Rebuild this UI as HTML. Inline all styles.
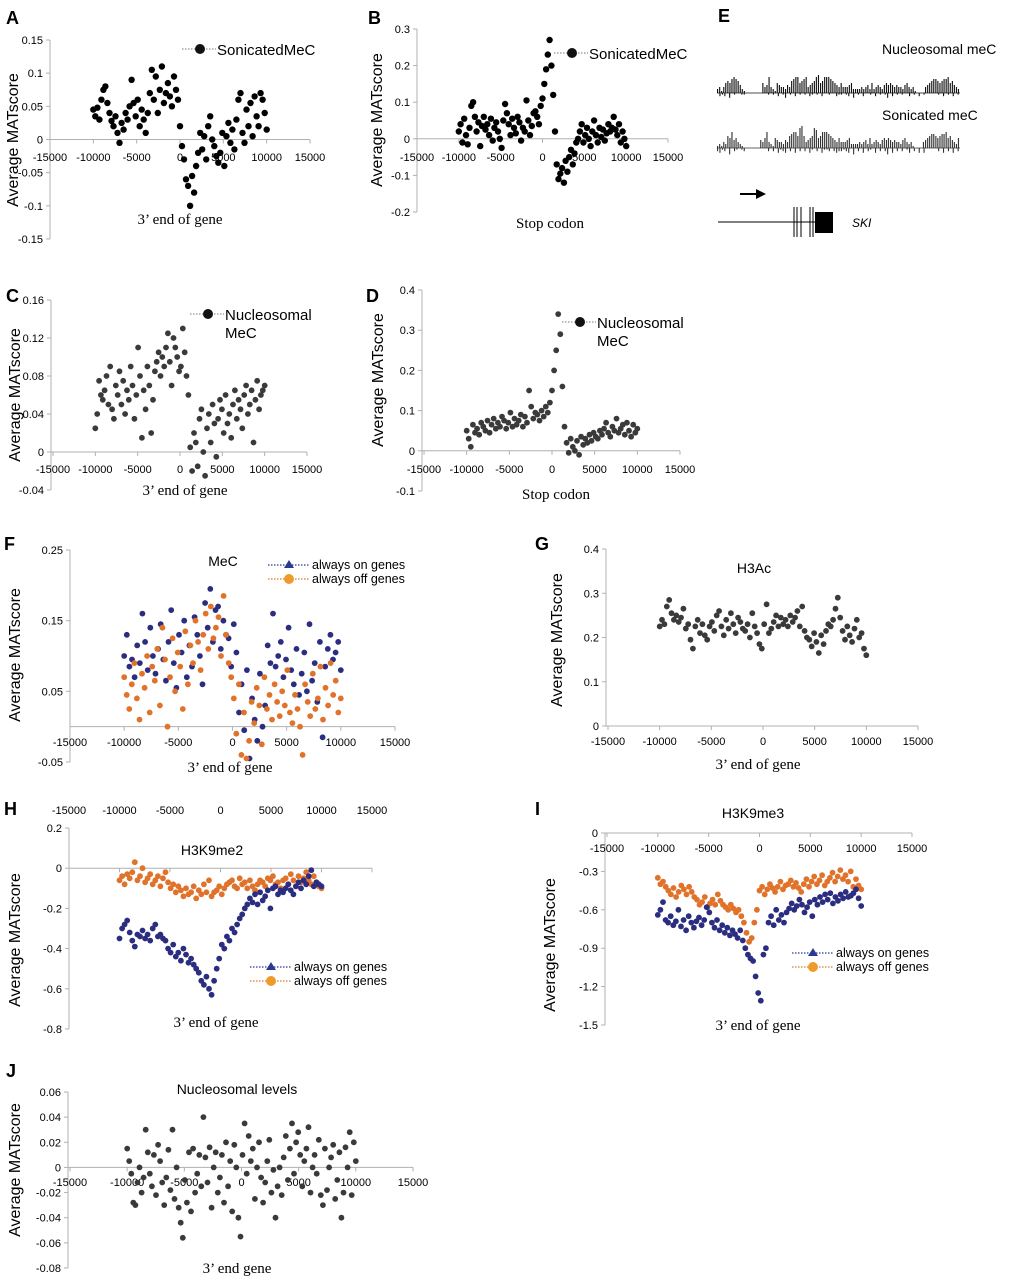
<!DOCTYPE html>
<html><head><meta charset="utf-8"><style>
html,body{margin:0;padding:0;background:#fff;}
svg{display:block;font-family:"Liberation Sans",Arial,sans-serif;}
</style></head><body>
<svg id="fig" width="1011" height="1280" viewBox="0 0 1011 1280" xmlns="http://www.w3.org/2000/svg">
<g id="static">
<text x="6" y="24" font-size="18" font-weight="bold">A</text>
<text x="368" y="24" font-size="18" font-weight="bold">B</text>
<text x="718" y="22" font-size="18" font-weight="bold">E</text>
<text x="6" y="302" font-size="18" font-weight="bold">C</text>
<text x="366" y="302" font-size="18" font-weight="bold">D</text>
<text x="4" y="550" font-size="18" font-weight="bold">F</text>
<text x="535" y="550" font-size="18" font-weight="bold">G</text>
<text x="4" y="815" font-size="18" font-weight="bold">H</text>
<text x="535" y="815" font-size="18" font-weight="bold">I</text>
<text x="6" y="1077" font-size="18" font-weight="bold">J</text>

<text x="882" y="54" font-size="14">Nucleosomal meC</text>
<text x="882" y="120" font-size="14">Sonicated meC</text>
<g>
<line x1="740" y1="194" x2="758" y2="194" stroke="#000" stroke-width="2"/>
<polygon points="756,189 766,194 756,199" fill="#000"/>
<line x1="718" y1="222" x2="815" y2="222" stroke="#000" stroke-width="1"/>
<line x1="794" y1="207" x2="794" y2="237" stroke="#000"/>
<line x1="797" y1="207" x2="797" y2="237" stroke="#000"/>
<line x1="801" y1="207" x2="801" y2="237" stroke="#000"/>
<line x1="810" y1="207" x2="810" y2="237" stroke="#000"/>
<line x1="813" y1="207" x2="813" y2="237" stroke="#000"/>
<rect x="815" y="212" width="18" height="21" fill="#000"/>
<text x="852" y="227" font-size="12" font-style="italic">SKI</text>
</g>
</g>
<g id="dyn"></g>
</svg>
<script>
// ---- data (values in units of 0.001 MATscore) ----
const xTicks = [-15000,-10000,-5000,0,5000,10000,15000];
const xTickLabels = ["-15000","-10000","-5000","0","5000","10000","15000"];
const seriesA = [45,35,48,30,60,75,80,55,40,28,20,35,10,-5,25,15,40,30,50,90,55,35,60,20,45,30,10,40,70,105,60,95,40,75,110,55,70,85,65,50,95,75,60,20,-10,-30,-60,-70,-100,-55,-80,-40,-20,10,-15,5,-30,20,35,0,-10,-25,-35,-20,10,-40,5,25,-5,15,-15,30,60,70,10,-5,45,20,55,5,65,35,20,70,60,40,15];
const seriesB = [20,40,-10,55,10,-15,30,90,100,60,20,45,-20,35,60,25,40,10,55,-5,30,45,20,0,-25,50,95,70,40,10,55,30,15,60,45,-5,30,20,105,50,10,35,70,75,60,40,90,110,150,190,230,270,200,120,20,-70,-110,-95,-80,-120,-60,-90,-50,-30,-70,-40,-10,0,20,40,-10,10,30,0,-20,20,50,10,-10,30,5,25,-5,15,40,20,30,60,25,10,40,-10,20,0,-20];
const seriesC = [25,40,75,60,55,65,80,50,90,45,35,70,60,85,50,75,40,65,55,90,70,35,60,110,80,15,65,45,90,70,20,55,85,95,105,80,100,90,110,125,95,70,120,110,100,85,90,130,105,80,60,5,-20,20,10,-15,35,45,0,-25,25,40,10,50,30,-5,35,55,45,20,60,30,40,15,50,65,35,55,45,25,60,70,40,50,65,10,55,75,45,60,65,70];
const seriesD = [50,30,10,65,45,55,40,70,60,50,75,45,65,80,55,70,60,85,75,55,70,95,60,80,65,75,90,60,85,70,150,110,80,95,90,75,100,85,110,95,120,150,200,250,340,290,160,60,20,-5,30,10,0,25,-10,35,15,30,20,40,25,45,35,30,50,40,55,70,45,35,60,50,80,45,55,65,40,70,50,35,65,45,55];
const seriesFon = [100,130,85,95,70,115,90,160,120,80,140,100,75,110,145,95,65,120,165,90,55,130,105,150,70,115,85,155,130,100,60,175,140,195,120,165,170,110,150,130,125,85,145,105,20,60,-5,80,-45,40,10,-20,75,0,30,115,90,160,85,100,120,70,95,140,80,60,110,45,75,105,50,145,65,90,35,120,-15,85,110,130,95,105,120,80];
const seriesFoff = [70,45,25,60,90,40,10,75,55,100,20,85,65,110,30,140,95,0,70,125,50,105,85,25,135,60,115,90,150,120,80,130,160,110,170,125,140,155,100,185,130,90,70,40,-10,60,-40,20,-45,-20,35,5,55,30,-25,70,25,45,10,60,35,15,50,30,80,20,5,45,25,0,-40,60,35,15,75,25,40,85,10,55,30,90,45,65,20,40];
const seriesG = [225,240,230,270,285,255,240,250,235,245,265,220,230,195,175,225,240,210,230,205,195,225,235,215,250,260,225,205,240,220,255,230,210,245,235,220,215,230,200,255,225,210,185,175,230,275,210,220,235,250,225,245,230,240,225,250,235,245,260,225,270,215,200,195,180,210,190,165,205,185,215,230,225,240,265,290,245,215,195,225,205,190,220,240,200,210,175,160];
const seriesHon = [-350,-300,-280,-260,-320,-360,-390,-330,-340,-310,-350,-330,-360,-300,-280,-340,-330,-350,-360,-400,-420,-380,-440,-420,-460,-400,-430,-470,-450,-480,-500,-520,-560,-580,-540,-600,-630,-560,-500,-450,-380,-400,-340,-360,-300,-320,-280,-250,-230,-200,-180,-150,-170,-130,-180,-120,-160,-140,-110,-200,-100,-90,-130,-110,-120,-100,-80,-110,-130,-90,-70,-100,-60,-80,-40,-10,-90,-70,-80,-90];
const seriesHoff = [-60,-40,-80,-30,-50,-20,30,-60,-40,0,-70,-50,-30,-80,-60,-40,-90,-50,-20,-70,-100,-80,-120,-90,-110,-140,-100,-130,-120,-90,-150,-110,-130,-80,-120,-60,-140,-120,-110,-90,-130,-100,-80,-70,-60,-90,-100,-50,-80,-70,-100,-60,-90,-110,-80,-60,-70,-90,-50,-60,-40,-80,-70,-100,-60,-50,-80,-30,-60,-90,-40,-70,-50,-20,-60,-80,-40,-70,-90,-100];
const seriesIon = [-640,-600,-540,-680,-700,-650,-720,-690,-600,-730,-680,-760,-650,-700,-740,-690,-660,-720,-680,-580,-620,-700,-740,-680,-760,-720,-780,-740,-800,-760,-790,-820,-760,-840,-900,-950,-980,-1000,-1120,-1250,-1310,-950,-900,-700,-650,-720,-600,-680,-640,-700,-620,-590,-550,-600,-570,-520,-560,-620,-580,-540,-650,-520,-560,-500,-540,-480,-520,-470,-550,-500,-530,-480,-510,-460,-500,-490,-470,-440,-510,-570];
const seriesIoff = [-350,-400,-380,-420,-450,-480,-430,-500,-460,-410,-440,-480,-420,-460,-500,-520,-560,-540,-500,-580,-550,-520,-560,-480,-530,-560,-580,-600,-560,-590,-620,-600,-650,-700,-780,-850,-820,-700,-600,-450,-420,-480,-440,-400,-430,-460,-420,-380,-440,-410,-400,-370,-420,-390,-430,-460,-400,-360,-420,-380,-340,-400,-370,-330,-410,-380,-350,-310,-380,-340,-290,-360,-330,-380,-300,-420,-360,-410,-440];
const seriesJ = [15,5,-5,-28,-30,-12,0,-20,-8,30,12,-5,-15,10,-22,18,5,-12,-30,-8,14,-18,30,-25,0,-32,-44,-56,-10,-28,12,-35,15,-20,-5,10,-15,40,8,-12,16,-32,0,12,-20,-8,10,-28,20,-15,5,-35,18,0,-40,-55,10,35,-5,25,5,15,-25,0,20,-8,-28,-12,5,22,-20,-2,-40,-15,0,-22,8,25,-10,15,35,-5,20,28,10,-15,5,15,32,-20,0,10,-5,22,-22,-30,15,-18,0,8,18,-25,-10,12,-40,-20,16,0,28,-22,20,5];
const ticksA = ["0.15","0.1","0.05","0","-0.05","-0.1","-0.15"];
const ticksB = ["0.3","0.2","0.1","0","-0.1","-0.2"];
const ticksC = ["0.16","0.12","0.08","0.04","0","-0.04"];
const ticksD = ["0.4","0.3","0.2","0.1","0","-0.1"];
const ticksF = ["0.25","0.15","0.05","-0.05"];
const ticksG = ["0.4","0.3","0.2","0.1","0"];
const ticksH = ["0.2","0","-0.2","-0.4","-0.6","-0.8"];
const ticksI = ["0","-0.3","-0.6","-0.9","-1.2","-1.5"];
const ticksJ = ["0.06","0.04","0.02","0","-0.02","-0.04","-0.06","-0.08"];
// E tracks: heights (base-36 digits, px/2)
const trackNucPos = "2313565787642100000000534832154332436788567834568956888765435333452222323425234324545434332453231000034567765677856432";
const trackNucNeg = "0212030100110000000001010201301020101021010200100211012030102001020101302010100201020100000102010201";
const trackSonPos = "1213265845321000000004358321543324367886ab63456a9568887654353334522223234252343245454343324532310000345677656778564325";
const trackSonNeg = "2312040210120000000002020312302030202031020311202322123040203021030202403020201302030300000203020302";

const NS="http://www.w3.org/2000/svg";
const dyn=document.getElementById('dyn');
function mk(tag,attrs,parent){const e=document.createElementNS(NS,tag);for(const k in attrs)e.setAttribute(k,attrs[k]);(parent||dyn).appendChild(e);return e;}

function panel(c){
  const g=mk('g',{});
  
  
  const n=c.tickLabels.length;
  const yv=v=>c.yTop+(c.yMax-v)/(c.yMax-c.yMin)*(c.yBot-c.yTop);
  const xv=v=>c.x0+(v+15000)/30000*(c.x1-c.x0);
  const y0=yv(0);
  const ya=mk('line',{x1:c.yax,y1:c.yTop,x2:c.yax,y2:c.yBot,stroke:'#b0b0b0','stroke-width':1},g);
  
  
  for(let i=0;i<n;i++){
    const v=c.yMax-(c.yMax-c.yMin)*i/(n-1);
    const py=yv(v);
    mk('line',{x1:c.yax-4,y1:py,x2:c.yax,y2:py,stroke:'#b0b0b0'},g);
    const t=mk('text',{x:c.yax-7,y:py+4,'font-size':11,'text-anchor':'end',fill:'#000'},g);
    t.textContent=c.tickLabels[i];
    
    
  }
  const xa=mk('line',{x1:c.yax,y1:y0,x2:c.x1,y2:y0,stroke:'#b0b0b0'},g);
  
  
  for(let i=0;i<xTicks.length;i++){
    const px=xv(xTicks[i]);
    mk('line',{x1:px,y1:y0,x2:px,y2:y0+4,stroke:'#b0b0b0'},g);
    const t=mk('text',{x:px,y:c.xLabY,'font-size':11,'text-anchor':'middle'},g);
    t.textContent=xTickLabels[i];
    
    
  }
  c.series.forEach(s=>{
    const sg=mk('g',{fill:s.color},g);
    
    
    const m=s.vals.length;
    s.vals.forEach((v,i)=>{
      const px=xv(-10000+20000*i/(m-1));
      const p=mk('circle',{cx:px.toFixed(1),cy:yv(v/1000).toFixed(1),r:c.r||2.9},sg);
      
      
    });
  });
  const yt=mk('text',{x:0,y:0,'font-size':16,'text-anchor':'middle',transform:`translate(${c.ytX},${c.ytY}) rotate(-90)`},g);
  yt.textContent='Average MATscore';
  
  
  if(c.xTitle){
    const xt=mk('text',{x:c.xtX,y:c.xtY,'font-size':15,'text-anchor':'middle','font-family':'"Liberation Serif",serif'},g);
    xt.textContent=c.xTitle;
    
    
  }
  if(c.title){
    const tt=mk('text',{x:c.tX,y:c.tY,'font-size':14,'text-anchor':'middle'},g);
    tt.textContent=c.title;
    
    
  }
  return g;
}
function legendSingle(x,y,lines,color){
  const g=mk('g',{});
  
  
  mk('line',{x1:x-18,y1:y,x2:x+16,y2:y,stroke:'#777','stroke-dasharray':'1.5,1.5'},g);
  mk('circle',{cx:x,cy:y,r:5,fill:color},g);
  lines.forEach((l,i)=>{const t=mk('text',{x:x+17,y:y+6+i*18,'font-size':15},g);t.textContent=l;});
}
function legendPair(x,y){
  const g=mk('g',{});
  
  
  mk('line',{x1:x,y1:y,x2:x+42,y2:y,stroke:'#2b3990','stroke-dasharray':'1.5,1.5','stroke-width':1.3},g);
  mk('polygon',{points:`${x+21},${y-5} ${x+26},${y+3} ${x+16},${y+3}`,fill:'#2b3990'},g);
  const t1=mk('text',{x:x+44,y:y+4,'font-size':12.5},g);t1.textContent='always on genes';
  mk('line',{x1:x,y1:y+14,x2:x+42,y2:y+14,stroke:'#e0762b','stroke-dasharray':'1.5,1.5','stroke-width':1.3},g);
  mk('circle',{cx:x+21,cy:y+14,r:5,fill:'#ef9a2d'},g);
  const t2=mk('text',{x:x+44,y:y+18,'font-size':12.5},g);t2.textContent='always off genes';
}
const NAVY='#2b2d80', ORNG='#e0722a', DK='#3a3a3a';
panel({name:'panel-a-sonicated-3end',yax:50,x0:50,x1:310,yTop:40,yBot:239,yMax:0.15,yMin:-0.15,tickLabels:ticksA,xLabY:161,r:3.2,
  series:[{name:'series-sonicated-mec',vals:seriesA,color:'#000'}],ytX:18,ytY:140,xTitle:'3’ end of gene',xtX:180,xtY:224});
legendSingle(200,49,['SonicatedMeC'],'#111');
panel({name:'panel-b-sonicated-stop',yax:417,x0:417,x1:668,yTop:29,yBot:212,yMax:0.3,yMin:-0.2,tickLabels:ticksB,xLabY:161,r:3.2,
  series:[{name:'series-sonicated-mec',vals:seriesB,color:'#000'}],ytX:382,ytY:120,xTitle:'Stop codon',xtX:550,xtY:228});
legendSingle(572,53,['SonicatedMeC'],'#111');
panel({name:'panel-c-nucleosomal-3end',yax:51,x0:53,x1:307,yTop:300,yBot:490,yMax:0.16,yMin:-0.04,tickLabels:ticksC,xLabY:473,
  series:[{name:'series-nucleosomal-mec',vals:seriesC,color:DK}],ytX:20,ytY:395,xTitle:'3’ end of gene',xtX:185,xtY:495});
legendSingle(208,314,['Nucleosomal','MeC'],'#111');
panel({name:'panel-d-nucleosomal-stop',yax:422,x0:424,x1:680,yTop:290,yBot:491,yMax:0.4,yMin:-0.1,tickLabels:ticksD,xLabY:473,
  series:[{name:'series-nucleosomal-mec',vals:seriesD,color:DK}],ytX:383,ytY:380,xTitle:'Stop codon',xtX:556,xtY:499});
legendSingle(580,322,['Nucleosomal','MeC'],'#111');
panel({name:'panel-f-mec',yax:70,x0:70,x1:395,yTop:550,yBot:762,yMax:0.25,yMin:-0.05,tickLabels:ticksF,xLabY:746,
  series:[{name:'series-always-on',vals:seriesFon,color:NAVY},{name:'series-always-off',vals:seriesFoff,color:ORNG}],
  ytX:20,ytY:655,xTitle:'3’ end of gene',xtX:230,xtY:772,title:'MeC',tX:223,tY:566});
legendPair(268,565);
panel({name:'panel-g-h3ac',yax:606,x0:608,x1:918,yTop:549,yBot:726,yMax:0.4,yMin:0,tickLabels:ticksG,xLabY:745,
  series:[{name:'series-h3ac',vals:seriesG,color:DK}],ytX:562,ytY:640,xTitle:'3’ end of gene',xtX:758,xtY:769,title:'H3Ac',tX:754,tY:573});
panel({name:'panel-h-h3k9me2',yax:69,x0:69,x1:372,yTop:828,yBot:1029,yMax:0.2,yMin:-0.8,tickLabels:ticksH,xLabY:814,
  series:[{name:'series-always-off',vals:seriesHoff,color:ORNG},{name:'series-always-on',vals:seriesHon,color:NAVY}],
  ytX:20,ytY:940,xTitle:'3’ end of gene',xtX:216,xtY:1027,title:'H3K9me2',tX:212,tY:855});
legendPair(250,967);
panel({name:'panel-i-h3k9me3',yax:605,x0:607,x1:912,yTop:833,yBot:1025,yMax:0,yMin:-1.5,tickLabels:ticksI,xLabY:852,
  series:[{name:'series-always-off',vals:seriesIoff,color:ORNG},{name:'series-always-on',vals:seriesIon,color:NAVY}],
  ytX:555,ytY:945,xTitle:'3’ end of gene',xtX:758,xtY:1030,title:'H3K9me3',tX:753,tY:818});
legendPair(792,953);
panel({name:'panel-j-nucleosomal-levels',yax:68,x0:70,x1:413,yTop:1092,yBot:1268,yMax:0.06,yMin:-0.08,tickLabels:ticksJ,xLabY:1186,
  series:[{name:'series-nucleosomal-levels',vals:seriesJ,color:DK}],ytX:20,ytY:1170,xTitle:'3’ end gene',xtX:237,xtY:1273,title:'Nucleosomal levels',tX:237,tY:1094});

function track(name,base,pos,neg,color){
  const g=mk('g',{fill:color});
  
  
  mk('line',{x1:717,y1:base,x2:960,y2:base,stroke:color,'stroke-width':0.8},g);
  const w=243/pos.length;
  for(let i=0;i<pos.length;i++){const h=parseInt(pos[i],36)*2;if(h>0)mk('rect',{x:(717+i*w).toFixed(1),y:base-h,width:w*0.55,height:h},g);}
  const w2=243/neg.length;
  for(let i=0;i<neg.length;i++){const h=parseInt(neg[i],36)*1.6;if(h>0)mk('rect',{x:(717+i*w2).toFixed(1),y:base,width:w2*0.45,height:h},g);}
}
track('track-nucleosomal-mec',93,trackNucPos,trackNucNeg,'#111');
track('track-sonicated-mec',148,trackSonPos,trackSonNeg,'#333');
</script>
</body></html>
